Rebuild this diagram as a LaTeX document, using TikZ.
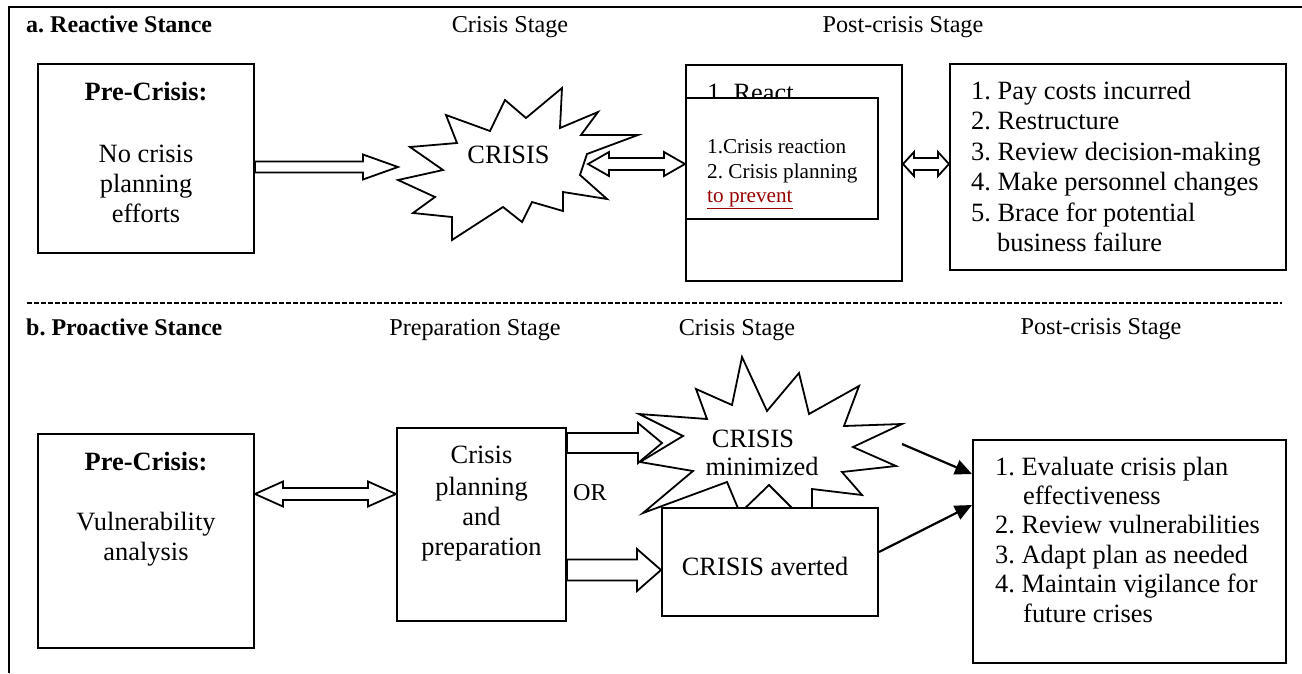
\documentclass[tikz,border=0pt]{standalone}
\usepackage{fontspec}
\setmainfont{Liberation Serif}
\usetikzlibrary{calc,arrows.meta}
\definecolor{linkred}{RGB}{153,0,0}
\frenchspacing
\tikzset{
  box/.style={draw, line width=2pt, fill=white, inner sep=0pt},
  txt/.style={inner sep=0pt, anchor=base, font=\fontsize{26.4}{30}\selectfont},
  txtl/.style={txt, anchor=base west},
  boldtxt/.style={txt, font=\bfseries\fontsize{26.4}{30}\selectfont},
  stage/.style={inner sep=0pt, anchor=base, font=\fontsize{24.2}{28}\selectfont},
  headline/.style={inner sep=0pt, anchor=base west, font=\bfseries\fontsize{24}{28}\selectfont},
  small/.style={inner sep=0pt, anchor=base west, font=\fontsize{21.2}{24}\selectfont},
  blk/.style={draw, line width=1.8pt, fill=white, line join=miter},
  burst/.style={draw, line width=1.8pt, line join=miter},
  solidarrow/.style={draw, line width=2.2pt, -{Triangle[length=17pt,width=15pt]}},
  framelines/.style={line width=2.5pt},
  sepline/.style={line width=2.6pt, dash pattern=on 5pt off 2pt},
}
% block arrow pointing right: #1 start, #2 tip (same level), #3 shaft half, #4 head half, #5 head length
\newcommand\blockright[5]{%
  \path[blk] ($(#1)+(0,-#3)$) -- ($(#2)+(-#5,-#3)$) -- ($(#2)+(-#5,-#4)$) -- (#2)
    -- ($(#2)+(-#5,#4)$) -- ($(#2)+(-#5,#3)$) -- ($(#1)+(0,#3)$) -- cycle;}
% double headed block arrow: #1 left tip, #2 right tip
\newcommand\blockboth[5]{%
  \path[blk] (#1) -- ($(#1)+(#5,-#4)$) -- ($(#1)+(#5,-#3)$) -- ($(#2)+(-#5,-#3)$)
    -- ($(#2)+(-#5,-#4)$) -- (#2) -- ($(#2)+(-#5,#4)$) -- ($(#2)+(-#5,#3)$)
    -- ($(#1)+(#5,#3)$) -- ($(#1)+(#5,#4)$) -- cycle;}
\begin{document}
\frenchspacing
\begin{tikzpicture}[x=1pt,y=-1pt]
\useasboundingbox (0,0) rectangle (1302,673);
\fill[white] (0,0) rectangle (1302,673);
% frame
\draw[framelines] (1302,7) -- (9,7) -- (9,673);

% ---------- a. Reactive stance ----------
\node[headline] (ha) at (26,32) {a. Reactive Stance};
\node[stage] (hac) at (510,32) {Crisis Stage};
\node[stage] (hap) at (903,32) {Post-crisis Stage};

\node[box, minimum width=216pt, minimum height=189pt] (pre1) at (146,158.5) {};
\node[boldtxt] (pre1h) at (146,100) {Pre-Crisis:};
\node[txt] (pre1a) at (146,162) {No crisis};
\node[txt] (pre1b) at (146,192) {planning};
\node[txt] (pre1c) at (146,222) {efforts};

% star 1
\draw[burst, fill=white] (446,115) -- (490,131) -- (505,100) -- (526,118) -- (562,88) -- (560,128)
  -- (598,112) -- (581,135) -- (638,135) -- (587,154) -- (580,175) -- (607,199) -- (563,192)
  -- (563,211) -- (532,202) -- (522,222) -- (503,207) -- (452,240) -- (452,217) -- (413,213)
  -- (435,197) -- (398,180) -- (443,170) -- (410,147) -- (457,143) -- cycle;
\node[txt] (crisis1) at (508.5,163) {CRISIS};
\coordinate (s1w) at (398,167);
\coordinate (s1e) at (588,164);

% react box
\node[box, minimum width=216pt, minimum height=216pt] (react) at (794,173) {};
\node[txtl] (reacttxt) at (707,101) {1. React};
\node[box, minimum width=192pt, minimum height=121pt] (inner) at (782,158.5) {};
\node[small] (r1) at (707,153) {1.Crisis reaction};
\node[small] (r2) at (707,178) {2. Crisis planning};
\node[small, text=linkred] (r3) at (707,202) {\underline{to prevent}};

% list 1
\node[box, minimum width=336pt, minimum height=206pt] (list1) at (1118,167) {};
\node[txtl] (l11) at (971,99) {1. Pay costs incurred};
\node[txtl] (l12) at (971,129.5) {2. Restructure};
\node[txtl] (l13) at (971,160) {3. Review decision-making};
\node[txtl] (l14) at (971,190.5) {4. Make personnel changes};
\node[txtl] (l15) at (971,221) {5. Brace for potential};
\node[txtl] (l16) at (997,251.5) {business failure};

% arrows top
\coordinate (a1s) at (pre1.east |- s1w);
\blockright{a1s}{s1w}{5.5}{12.5}{35}
\coordinate (a2e) at (react.west |- s1e);
\blockboth{s1e}{a2e}{6}{12}{21}
\coordinate (a3s) at (react.east |- s1e);
\coordinate (a3e) at (list1.west |- s1e);
\blockboth{a3s}{a3e}{6}{12}{11}

% separator
\coordinate (d1) at (27,303);
\coordinate (d2) at (1282,303);
\draw[sepline] (d1) -- (d2);

% ---------- b. Proactive stance ----------
\node[headline] (hb) at (26,335) {b. Proactive Stance};
\node[stage] (hbp) at (475,335) {Preparation Stage};
\node[stage] (hbc) at (737,335) {Crisis Stage};
\node[stage] (hbo) at (1101,334) {Post-crisis Stage};

\node[box, minimum width=216pt, minimum height=214pt] (pre2) at (146,541) {};
\node[boldtxt] (pre2h) at (146,470) {Pre-Crisis:};
\node[txt] (pre2a) at (146,530) {Vulnerability};
\node[txt] (pre2b) at (146,560) {analysis};

\node[box, minimum width=169pt, minimum height=193pt] (plan) at (481.5,524.5) {};
\node[txt] (plan1) at (481.5,463) {Crisis};
\node[txt] (plan2) at (481.5,495) {planning};
\node[txt] (plan3) at (481.5,525) {and};
\node[txt] (plan4) at (481.5,555) {preparation};

\node[stage, anchor=base west] (or) at (573,500) {OR};

\coordinate (a4s) at (pre2.east |- 0,494);
\coordinate (a4e) at (plan.west |- 0,494);
\blockboth{a4s}{a4e}{6}{12.5}{28}

% arrow to star 2
\coordinate (s2w) at (662,443);
\coordinate (a5s) at (plan.east |- s2w);
\blockright{a5s}{s2w}{10}{20}{24}

% star 2
\draw[burst] (742,357) -- (767,411) -- (799,373) -- (809,414) -- (859,386) -- (844,426)
  -- (902,424) -- (853,447) -- (896,466) -- (842,472) -- (862,495) -- (812,489) -- (812,528)
  -- (769,485) -- (740,513) -- (727,482) -- (643,513) -- (693,471) -- (640,462) -- (683,436)
  -- (639,414) -- (707,419) -- (696,389) -- (732,405) -- cycle;
\node[txt] (crisis2a) at (753,447) {CRISIS};
\node[txt] (crisis2b) at (762,475) {minimized};
\coordinate (s2e) at (902,444);

% averted box
\node[box, minimum width=216pt, minimum height=108pt] (averted) at (770,562) {};
\node[txt] (avertedtxt) at (765,575) {CRISIS averted};
\coordinate (a6e) at (averted.west |- 0,570);
\coordinate (a6s) at (plan.east |- a6e);
\blockright{a6s}{a6e}{10.5}{21}{24}

% list 2
\node[box, minimum width=313pt, minimum height=223pt] (list2) at (1129.5,551.5) {};
\node[txtl] (l21) at (995,475) {1. Evaluate crisis plan};
\node[txtl] (l22) at (1023,504.4) {effectiveness};
\node[txtl] (l23) at (995,533.8) {2. Review vulnerabilities};
\node[txtl] (l24) at (995,563.2) {3. Adapt plan as needed};
\node[txtl] (l25) at (995,592.6) {4. Maintain vigilance for};
\node[txtl] (l26) at (1023,622) {future crises};

% solid arrows
\coordinate (b1e) at (list2.west |- 0,474);
\draw[solidarrow] (s2e) -- (b1e);
\coordinate (b2s) at (averted.east |- 0,552);
\coordinate (b2e) at (list2.west |- 0,505);
\draw[solidarrow] (b2s) -- (b2e);
\end{tikzpicture}
\end{document}
